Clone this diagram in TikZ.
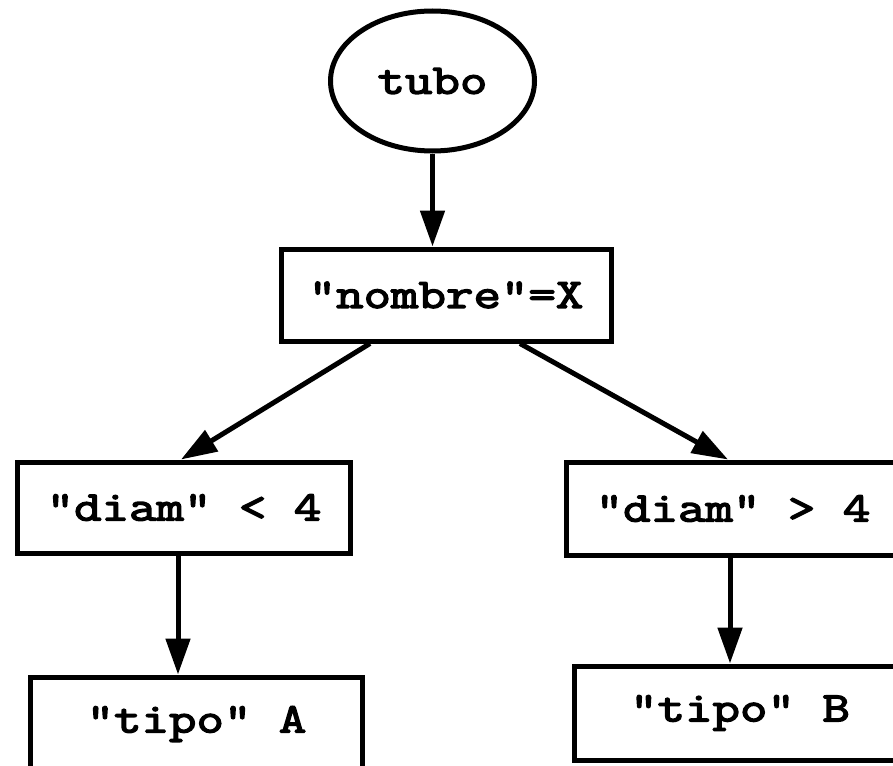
\documentclass[tikz,border=0pt]{standalone}
\usepackage{fontspec}
\usepackage{tikz}
\usetikzlibrary{shapes.geometric}
\usetikzlibrary{arrows.meta}
\newfontfamily\courierfont{Latin Modern Mono}[FakeBold=3.5, FakeStretch=1.27]
\tikzset{
	caja/.style={draw, black, line width=5pt, rectangle, inner sep=0pt, font=\courierfont\fontsize{42}{42}\selectfont},
	flecha/.style={-{Triangle[length=36pt, width=24pt]}, black, line width=5pt}
}
\begin{document}
\begin{tikzpicture}[x=1pt, y=1pt]
						\useasboundingbox (0,0) rectangle (893,-765);
						\node[draw, ellipse, line width=5pt, inner sep=0pt, minimum width=204pt, minimum height=140pt, font=\courierfont\fontsize{42}{42}\selectfont] (tubo) at (432.5,-81) {tubo};
						\node[caja, minimum width=330pt, minimum height=92pt] (nombre) at (446,-295) {"nombre"=X};
						\node[caja, minimum width=333pt, minimum height=91pt] (menor) at (184,-507.5) {"diam" < 4};
						\node[caja, minimum width=333pt, minimum height=93pt] (mayor) at (733,-508.5) {"diam" > 4};
						\node[caja, minimum width=332pt, minimum height=94pt] (tipoA) at (196.5,-724) {"tipo" A};
						\node[caja, minimum width=332pt, minimum height=94pt] (tipoB) at (740,-713) {"tipo" B};
						\draw[flecha] (tubo.south) -- (tubo.south |- nombre.north);
						\draw[flecha] ([xshift=-76pt]nombre.south) -- ([xshift=-3pt]menor.north);
						\draw[flecha] ([xshift=74pt]nombre.south) -- ([xshift=-5pt]mayor.north);
						\draw[flecha] ([xshift=-6pt]menor.south) -- ([xshift=-6pt]menor.south |- tipoA.north);
						\draw[flecha] ([xshift=-3pt]mayor.south) -- ([xshift=-3pt]mayor.south |- tipoB.north);
					\end{tikzpicture}
\end{document}
